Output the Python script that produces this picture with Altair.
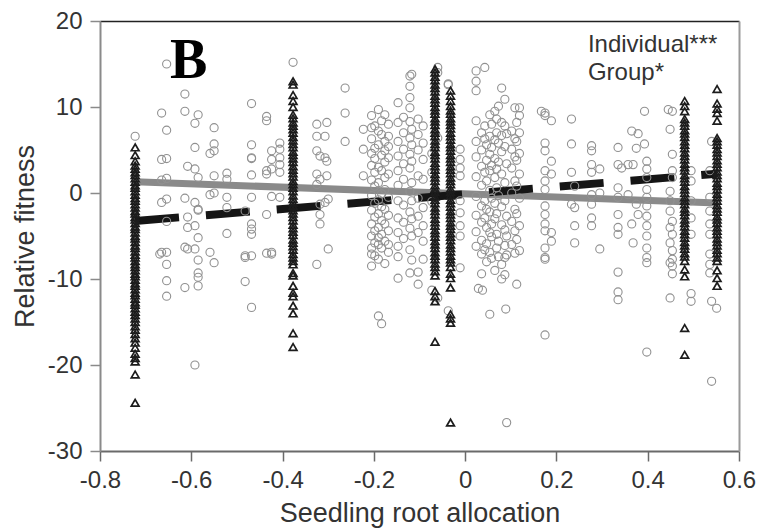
import altair as alt
import pandas as pd

# ---- circles (individual plants): x positions and y values read per column ----
CIRC_X = [
    -0.723, -0.669, -0.665, -0.654, -0.614, -0.608, -0.592, -0.585, -0.559, -0.550,
    -0.522, -0.482, -0.468, -0.435, -0.424, -0.406, -0.377, -0.325, -0.318, -0.307,
    -0.303, -0.300, -0.263, -0.223,
    -0.205, -0.198, -0.190, -0.183, -0.176, -0.168,
    -0.147, -0.135, -0.121, -0.117, -0.103, -0.092, -0.073, -0.060, -0.037, -0.011,
    0.024, 0.029, 0.036, 0.038, 0.043, 0.047, 0.054, 0.058, 0.065, 0.069, 0.073,
    0.080, 0.087, 0.089, 0.091, 0.102, 0.109, 0.113, 0.119,
    0.167, 0.175, 0.189, 0.233, 0.240, 0.277, 0.295, 0.335, 0.343, 0.357,
    0.365, 0.368, 0.375, 0.379, 0.393, 0.398, 0.445, 0.449, 0.454, 0.495,
    0.536, 0.540, 0.551,
]
CIRC_Y = [
    [6.6], [-7.1], [9.3, 3.9, 1.5, -1.1, -6.9],
    [15.0, 7.3, 4.0, 1.7, -0.7, -3.3, -6.9, -8.3, -10.2, -12.0],
    [11.5, 9.5, -0.6, -6.3, -11.0], [3.1, -2.8, -4.0, -6.5],
    [8.1, 5.3, 2.8, -1.1, -3.8, -6.5, -20.0],
    [9.1, 1.8, -1.9, -2.0, -5.2, -7.8, -9.3, -9.8, -10.8],
    [4.6, -0.2, -6.9], [7.6, 5.7, 4.9, 2.0, 0.0, -8.1],
    [2.3, 1.6, -0.5, -1.7, -4.7], [-2.1, -7.3, -7.5, -10.3],
    [10.4, 5.6, 4.1, 4.0, 2.1, -0.5, -4.2, -4.8, -3.6, -7.3, -13.3],
    [8.9, 8.4, 2.6, 2.2, -2.5, -7.0], [4.9, 3.9, 2.8, -0.4, -6.9, -7.1],
    [5.8, 5.1, 4.1, 3.3, 2.4, -0.5], [15.2],
    [8.0, 6.6, 4.9, 2.2, 1.0, -8.3], [4.3, 1.6, -1.3, -2.5, -3.6],
    [6.6, 4.1, -1.1], [8.2, 3.7, 2.0], [-0.7, -6.5], [12.2, 9.3, 6.0], [7.4, 5.1, 2.0],
    [9.0, 7.6, 6.3, 4.6, 3.2, 1.5, -0.3, -2.0, -3.6, -5.0, -6.4, -7.1, -8.5],
    [7.8, 5.2, 4.0, 2.4, 0.8, -1.2, -2.8, -4.4, -5.8, -7.3],
    [9.7, 7.2, 5.6, 3.0, 1.2, -0.8, -2.4, -4.0, -5.2, -6.0, -7.7, -14.3],
    [8.4, 6.8, 4.4, 2.6, -0.1, -1.6, -3.2, -4.8, -6.4, -15.2],
    [9.1, 6.0, 4.9, 3.6, 1.8, 0.4, -1.9, -3.6, -5.6, -8.2],
    [8.0, 6.6, 5.4, 4.1, 2.2, -0.5, -2.6, -4.4, -6.0, -6.9],
    [10.5, 8.2, 6.0, 4.3, 2.6, 0.9, -0.9, -2.9, -4.6, -6.2, -7.4, -9.9],
    [8.8, 7.0, 5.1, 3.4, 1.6, -1.4, -3.4, -5.3],
    [13.6, 12.4, 11.1, 9.9, 8.3, 6.4, 4.5, 2.9, 0.2, -2.2, -4.1, -6.6, -9.3],
    [13.8, 7.4, 5.6, 3.7, 1.2, -0.9, -3.0, -5.0, -7.8],
    [8.6, 6.8, 5.0, 2.0, -0.6, -2.7, -4.6, -9.2, -10.6],
    [7.8, 5.8, 3.9, 1.6, -1.7, -3.8, -5.6, -7.7],
    [4.6, 2.4, -1.0, -11.3], [14.6, 14.0, 6.4, -12.2], [12.6, 12.7, -13.7],
    [5.1, 3.9, 2.9, 2.0, -0.9, -2.3, -3.8, -5.0, -8.7],
    [14.2, 13.0, 11.9, 8.4, 6.0, 4.2, 1.9, -0.4, -2.6, -4.5, -6.2], [-11.1],
    [7.0, 5.0, 3.1, 0.9, -1.5, -3.4, -5.5, -7.1, -9.4], [-11.3],
    [14.6, 7.8, 6.3, 2.4, -0.9, -2.9, -6.6],
    [5.6, 3.8, 1.4, -1.9, -4.0, -5.9, -8.0],
    [9.1, 6.6, 4.5, 2.6, 0.3, -2.2, -4.6, -6.9, -14.1],
    [8.0, 5.3, 3.2, -0.6, -3.6, -5.1, -7.6],
    [9.5, 6.2, 4.0, 1.8, -1.2, -3.0, -9.0],
    [8.6, 7.0, 2.8, 0.6, -2.4, -4.8, -6.4],
    [10.1, 5.8, 3.6, -0.3, -5.6, -7.4],
    [12.2, 8.2, 6.7, 4.8, 2.2, -1.6, -3.7, -8.3, -10.0],
    [10.9, 7.8, 5.4, 1.2, -0.9, -4.3, -6.1, -7.5, -9.5], [-13.5],
    [6.9, 3.4, -2.7, -5.0, -7.2, -26.7],
    [7.2, 5.1, 2.9, 0.0, -3.3, -6.0],
    [9.9, 6.3, 4.2, 1.4, -1.9, -4.4, -7.0],
    [8.2, 6.0, 3.8, 0.8, -2.4, -5.4, -10.6],
    [9.9, 9.0, 7.0, 4.6, 2.2, -0.6, -3.8, -6.7],
    [9.5],
    [9.3, 9.0, 5.8, 4.9, 2.6, 1.4, 0.4, -1.5, -2.5, -3.6, -4.4, -6.4, -7.5, -7.7, -16.5],
    [8.4, 3.7, 2.2, -4.6, -5.6], [8.6, 5.7, 2.4, -1.3], [0.8, -1.7, -3.8, -5.8],
    [5.5, 4.9, 3.3, 2.4, -0.2, -1.3, -2.9, -3.8], [2.8, 0.0, -6.5],
    [5.3, 3.3, 0.6, -0.5, -2.5, -4.0, -4.8, -9.2, -11.5, -12.4], [2.9], [3.3, -0.2],
    [7.2, -3.6], [3.3, -5.8], [5.2, -1.3], [6.9, -2.5], [9.5, 5.7],
    [3.7, 2.8, 1.8, 0.4, -0.5, -1.5, -2.7, -3.8, -5.0, -6.4, -7.5, -8.1, -18.5],
    [9.7], [7.4, 0.2, -0.9, -2.1, -4.0, -5.8, -8.1, -12.2],
    [9.5, 4.5, 2.6, 1.8, -3.3, -4.8, -6.7, -7.7, -8.5, -9.4],
    [2.6, 1.4, -0.9, -2.9, -4.8, -11.7, -12.6],
    [2.6, -0.5, -2.1, -3.6, -4.8, -7.1, -8.3, -9.3], [6.0, -12.6, -21.9], [-13.4],
]

# ---- triangles (group means columns) ----
TRI_X = [-0.723, -0.377, -0.066, -0.032, 0.481, 0.552]
TRI_Y = [
    [5.3, 4.4, 3.7, 3.2, 2.8, 2.4, 2.1, 1.7, 1.3, 0.9, 0.6, 0.2, -0.2, -0.6, -0.9, -1.3,
     -1.7, -2.1, -2.4, -2.8, -3.1, -3.5, -3.9, -4.2, -4.6, -5.0, -5.3, -5.7, -6.1, -6.4,
     -6.8, -7.2, -7.5, -7.9, -8.3, -8.6, -9.0, -9.4, -9.7, -10.1, -10.5, -10.8, -11.2,
     -11.6, -11.9, -12.3, -12.7, -13.0, -13.4, -13.8, -14.2, -14.6, -15.0, -15.5, -15.9,
     -16.4, -16.9, -17.4, -18.0, -18.7, -19.2, -19.6, -21.1, -24.4],
    [13.0, 12.6, 11.4, 10.7, 10.0, 9.1, 8.7, 8.2, 7.8, 7.4, 7.0, 6.5, 6.1, 5.7, 5.3, 4.8,
     4.4, 4.0, 3.6, 3.1, 2.7, 2.3, 1.9, 1.4, 1.0, 0.6, 0.2, -0.3, -0.7, -1.1, -1.5, -2.0,
     -2.4, -2.8, -3.2, -3.7, -4.1, -4.5, -4.9, -5.4, -5.8, -6.2, -6.6, -7.1, -7.5, -7.9,
     -8.3, -9.3, -9.6, -10.8, -11.6, -12.0, -13.1, -14.0, -16.3, -17.9],
    [14.4, 14.0, 13.5, 13.1, 12.6, 12.2, 11.8, 11.3, 10.9, 10.5, 10.0, 9.6, 9.2, 8.7, 8.3,
     7.9, 7.4, 7.0, 6.6, 6.1, 5.7, 5.3, 4.8, 4.4, 4.0, 3.5, 3.1, 2.7, 2.2, 1.8, 1.4, 0.9,
     0.5, 0.1, -0.4, -0.8, -1.2, -1.7, -2.1, -2.5, -3.0, -3.4, -3.8, -4.3, -4.7, -5.1,
     -5.6, -6.0, -6.4, -6.9, -7.3, -7.7, -8.2, -8.6, -9.1, -9.6, -11.4, -12.0, -12.6, -17.3],
    [11.9, 11.3, 10.7, 10.1, 9.6, 9.2, 8.7, 8.3, 7.9, 7.5, 7.0, 6.6, 6.2, 5.7, 5.3, 4.9,
     4.4, 4.0, 3.6, 3.1, 2.7, 2.3, 1.8, 1.4, 1.0, 0.5, 0.1, -0.3, -0.8, -1.2, -1.6, -2.1,
     -2.5, -2.9, -3.4, -3.8, -4.2, -4.7, -5.1, -5.5, -6.0, -6.4, -6.8, -7.3, -7.7, -8.1,
     -8.6, -9.4, -9.9, -11.0, -14.1, -14.6, -15.1, -26.7],
    [10.7, 10.1, 9.5, 8.6, 8.2, 7.8, 7.3, 6.9, 6.5, 6.0, 5.6, 5.2, 4.7, 4.3, 3.9, 3.4, 3.0,
     2.6, 2.1, 1.7, 1.3, 0.8, 0.4, 0.0, -0.5, -0.9, -1.3, -1.8, -2.2, -2.6, -3.1, -3.5,
     -3.9, -4.4, -4.8, -5.2, -5.7, -6.1, -6.5, -7.0, -7.4, -7.9, -8.9, -9.7, -15.7, -18.8],
    [12.1, 10.4, 9.8, 9.3, 8.4, 6.4, 6.0, 5.6, 5.1, 4.7, 4.3, 3.8, 3.4, 3.0, 2.5, 2.1, 1.7,
     1.2, 0.8, 0.4, -0.1, -0.5, -0.9, -1.4, -1.8, -2.2, -2.7, -3.1, -3.5, -4.0, -4.4, -4.8,
     -5.3, -5.7, -6.1, -6.6, -7.0, -7.5, -7.9, -9.0, -9.9, -10.8],
]

# ---- regression lines ----
LINE_X = [-0.723, 0.552]
INDIVIDUAL_Y = [1.3, -1.15]
GROUP_Y = [-3.25, 2.25]

X_TICKS = [-0.8, -0.6, -0.4, -0.2, 0, 0.2, 0.4, 0.6]
Y_TICKS = [-30, -20, -10, 0, 10, 20]

NOTE_TEXT = ["Individual***", "Group*"]
NOTE_X = [0.269, 0.269]
NOTE_Y = [16.4, 13.15]
PANEL_TEXT = ["B"]
PANEL_X = [-0.606]
PANEL_Y = [13.37]

circ = pd.DataFrame(
    [(x, y) for x, ys in zip(CIRC_X, CIRC_Y) for y in ys], columns=["x", "y"]
)
tri = pd.DataFrame(
    [(x, y) for x, ys in zip(TRI_X, TRI_Y) for y in ys], columns=["x", "y"]
)
ind = pd.DataFrame({"x": LINE_X, "y": INDIVIDUAL_Y})
grp = pd.DataFrame({"x": LINE_X, "y": GROUP_Y})
notes = pd.DataFrame({"x": NOTE_X, "y": NOTE_Y, "t": NOTE_TEXT})
panel = pd.DataFrame({"x": PANEL_X, "y": PANEL_Y, "t": PANEL_TEXT})

xs = alt.Scale(domain=[-0.8, 0.6], nice=False, zero=False)
ys = alt.Scale(domain=[-30, 20], nice=False, zero=False)

FONT = "Liberation Sans"

x_axis = alt.Axis(
    values=X_TICKS, labelExpr="'' + datum.value", title="Seedling root allocation",
    grid=False, domainColor="#6a6a6a", domainWidth=2, tickColor="#6a6a6a",
    tickWidth=1.5, tickSize=10, labelPadding=7, labelFont=FONT, labelFontSize=24,
    labelColor="#333333", titleFont=FONT, titleFontSize=27, titleFontWeight="normal",
    titleColor="#333333", titleBaseline="alphabetic", titleY=70, labelFlush=False,
)
y_axis = alt.Axis(
    values=Y_TICKS, labelExpr="'' + datum.value", title="Relative fitness",
    grid=False, domainColor="#8a8a8a", domainWidth=2, tickColor="#8a8a8a",
    tickWidth=1.5, tickSize=10, labelPadding=8, labelFont=FONT, labelFontSize=24,
    labelColor="#333333", titleFont=FONT, titleFontSize=27, titleFontWeight="normal",
    titleColor="#333333", titleBaseline="alphabetic", titleX=-67, labelFlush=False,
)
top_axis = alt.Axis(orient="top", labels=False, ticks=False, title=None, grid=False,
                    domainColor="#222222", domainWidth=1.5)
right_axis = alt.Axis(orient="right", labels=False, ticks=False, title=None, grid=False,
                      domainColor="#9a9a9a", domainWidth=2)

ind_line = alt.Chart(ind).mark_line(color="#8a8a8a", strokeWidth=7, strokeCap="butt").encode(
    x=alt.X("x:Q", scale=xs, axis=x_axis),
    y=alt.Y("y:Q", scale=ys, axis=y_axis),
)
grp_line = alt.Chart(grp).mark_line(
    color="#151515", strokeWidth=8, strokeCap="butt", strokeDash=[44, 27]
).encode(
    x=alt.X("x:Q", scale=xs, axis=None),
    y=alt.Y("y:Q", scale=ys, axis=None),
)
circles = alt.Chart(circ).mark_point(
    shape="circle", filled=False, color="#919191", size=66, strokeWidth=1.1, opacity=1
).encode(
    x=alt.X("x:Q", scale=xs, axis=None),
    y=alt.Y("y:Q", scale=ys, axis=None),
)
triangles = alt.Chart(tri).mark_point(
    shape="triangle-up", filled=False, color="#1c1c1c", size=60, strokeWidth=1.7, opacity=1
).encode(
    x=alt.X("x:Q", scale=xs, axis=None),
    y=alt.Y("y:Q", scale=ys, axis=None),
)
note_text = alt.Chart(notes).mark_text(
    align="left", baseline="alphabetic", font=FONT, fontSize=24, color="#333333"
).encode(
    x=alt.X("x:Q", scale=xs, axis=top_axis),
    y=alt.Y("y:Q", scale=ys, axis=right_axis),
    text="t:N",
)
panel_text = alt.Chart(panel).mark_text(
    align="center", baseline="alphabetic", font="Liberation Serif", fontSize=56,
    fontWeight="bold", color="#000000"
).encode(
    x=alt.X("x:Q", scale=xs, axis=None),
    y=alt.Y("y:Q", scale=ys, axis=None),
    text="t:N",
)

chart = (
    alt.layer(ind_line, grp_line, circles, triangles, note_text, panel_text)
    .resolve_axis(x="independent", y="independent")
    .properties(
        width=639, height=430,
        autosize=alt.AutoSizeParams(type="none"),
        padding={"left": 100, "top": 21, "right": 19, "bottom": 80},
        background="white",
    )
    .configure_view(stroke=None)
)

chart.save("out.html", embed_options={"renderer": "svg", "actions": False})
